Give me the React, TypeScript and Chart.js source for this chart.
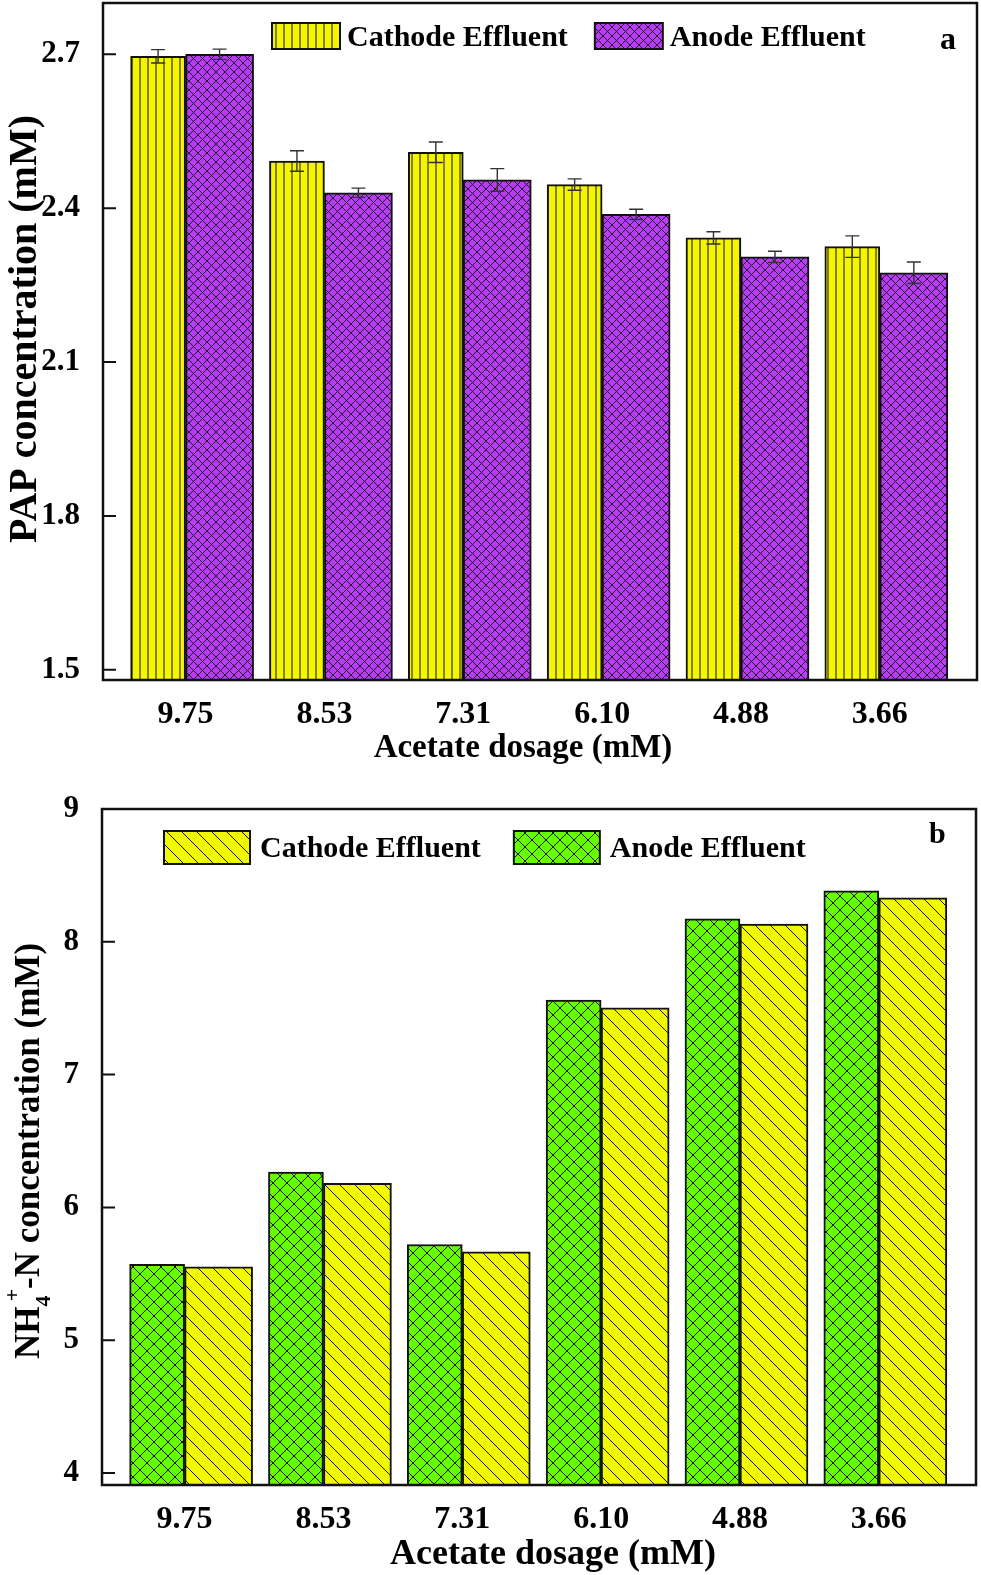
import { useEffect, useRef } from "react";
import { Chart, registerables, type ChartConfiguration, type Plugin } from "chart.js";

Chart.register(...registerables);

const FONT = "'Liberation Serif', 'Times New Roman', serif";

// shared x categories (acetate dosage, mM)
const dosages = ["9.75", "8.53", "7.31", "6.10", "4.88", "3.66"];

// panel a: PAP concentration (mM)
const papCathode = [2.696, 2.492, 2.509, 2.446, 2.342, 2.325];
const papCathodeErr = [0.013, 0.02, 0.02, 0.011, 0.012, 0.021];
const papAnode = [2.7, 2.43, 2.455, 2.388, 2.305, 2.274];
const papAnodeErr = [0.01, 0.009, 0.022, 0.01, 0.011, 0.021];
const papTicks = [1.5, 1.8, 2.1, 2.4, 2.7];

// panel b: NH4+-N concentration (mM)
const nhAnode = [5.571, 6.266, 5.721, 7.561, 8.173, 8.384];
const nhCathode = [5.553, 6.181, 5.666, 7.503, 8.133, 8.331];
const nhTicks = [4, 5, 6, 7, 8, 9];

const points = (values: number[]) => values.map((y, i) => ({ x: i + 1, y }));

function hatch(bg: string, period: number, dirs: string[], lw = 1) {
  const c = document.createElement("canvas");
  c.width = period;
  c.height = period;
  const g = c.getContext("2d")!;
  g.fillStyle = bg;
  g.fillRect(0, 0, period, period);
  g.strokeStyle = "#111";
  g.lineWidth = lw;
  g.beginPath();
  for (const d of dirs) {
    if (d === "|") {
      g.moveTo(period / 2, 0);
      g.lineTo(period / 2, period);
    }
    for (const o of [-period, 0, period]) {
      if (d === "\\") {
        g.moveTo(o, 0);
        g.lineTo(o + period, period);
      }
      if (d === "/") {
        g.moveTo(o, period);
        g.lineTo(o + period, 0);
      }
    }
  }
  g.stroke();
  return g.createPattern(c, "repeat")!;
}

type Part = { text: string; scale?: number; shift?: number; stackOn?: number };

function drawParts(
  ctx: CanvasRenderingContext2D,
  parts: Part[],
  size: number,
  cx: number,
  cy: number,
  angle: number
) {
  const laid: (Part & { fs: number; start: number })[] = [];
  let pos = 0;
  let prevStart = 0;
  for (const p of parts) {
    const fs = size * (p.scale ?? 1);
    ctx.font = `bold ${fs}px ${FONT}`;
    const w = ctx.measureText(p.text).width;
    const start = p.stackOn !== undefined ? prevStart + p.stackOn * size : pos;
    if (p.stackOn === undefined) prevStart = start;
    laid.push({ ...p, fs, start });
    pos = Math.max(pos, start + w);
  }
  ctx.save();
  ctx.translate(cx, cy);
  ctx.rotate(angle);
  ctx.textAlign = "left";
  ctx.textBaseline = "alphabetic";
  for (const l of laid) {
    ctx.font = `bold ${l.fs}px ${FONT}`;
    ctx.fillText(l.text, l.start - pos / 2, size * 0.33 + (l.shift ?? 0) * size);
  }
  ctx.restore();
}

const framePlugin: Plugin = {
  id: "frame",
  afterDatasetsDraw(chart) {
    const { ctx, chartArea: a } = chart;
    const y = chart.scales.y;
    ctx.save();
    ctx.strokeStyle = "#111";
    ctx.lineWidth = 2;
    ctx.beginPath();
    for (const t of y.ticks) {
      const py = y.getPixelForValue(t.value);
      ctx.moveTo(a.left, py);
      ctx.lineTo(a.left + 13, py);
    }
    ctx.stroke();
    ctx.lineWidth = 2.5;
    ctx.strokeRect(a.left, a.top, a.right - a.left, a.bottom - a.top);
    ctx.restore();
  },
};

const errorBarPlugin: Plugin = {
  id: "errorBars",
  afterDatasetsDraw(chart) {
    const { ctx } = chart;
    const y = chart.scales.y;
    ctx.save();
    ctx.strokeStyle = "#333";
    ctx.lineWidth = 1.4;
    chart.data.datasets.forEach((ds: any, di) => {
      if (!ds.errors) return;
      chart.getDatasetMeta(di).data.forEach((bar: any, i) => {
        const v = ds.data[i].y;
        const e = ds.errors[i];
        const top = y.getPixelForValue(v + e);
        const bot = y.getPixelForValue(v - e);
        ctx.beginPath();
        ctx.moveTo(bar.x, top);
        ctx.lineTo(bar.x, bot);
        ctx.moveTo(bar.x - 7, top);
        ctx.lineTo(bar.x + 7, top);
        ctx.moveTo(bar.x - 7, bot);
        ctx.lineTo(bar.x + 7, bot);
        ctx.stroke();
      });
    });
    ctx.restore();
  },
};

const legendPlugin: Plugin = {
  id: "boxLegend",
  afterDraw(chart, _args, opts: any) {
    const { ctx, chartArea: a } = chart;
    ctx.save();
    ctx.font = `bold ${opts.size}px ${FONT}`;
    ctx.textAlign = "left";
    ctx.textBaseline = "alphabetic";
    let x = a.left + opts.left;
    const top = a.top + opts.top;
    for (const di of opts.order) {
      const ds: any = chart.data.datasets[di];
      ctx.fillStyle = ds.backgroundColor;
      ctx.fillRect(x, top, opts.boxW, opts.boxH);
      ctx.lineWidth = 2;
      ctx.strokeStyle = "#111";
      ctx.strokeRect(x, top, opts.boxW, opts.boxH);
      x += opts.boxW + opts.textGap;
      ctx.fillStyle = "#000";
      ctx.fillText(ds.label, x, top + opts.boxH / 2 + opts.size * 0.33);
      x += ctx.measureText(ds.label).width + opts.itemGap;
    }
    ctx.restore();
  },
};

const titlesPlugin: Plugin = {
  id: "axisTitles",
  afterDraw(chart, _args, opts: any) {
    const { ctx } = chart;
    ctx.save();
    ctx.fillStyle = "#000";
    drawParts(ctx, opts.x.parts, opts.x.size, opts.x.cx, opts.x.cy, 0);
    drawParts(ctx, opts.y.parts, opts.y.size, opts.y.cx, opts.y.cy, -Math.PI / 2);
    ctx.font = `bold ${opts.tag.size}px ${FONT}`;
    ctx.textAlign = "left";
    ctx.textBaseline = "alphabetic";
    ctx.fillText(opts.tag.text, opts.tag.x, opts.tag.y);
    ctx.restore();
  },
};

// scales keep their fixed sizes and ask for no extra edge padding
const fixSize = (key: "width" | "height", size: number) => (s: any) => {
  s[key] = size;
  s.paddingTop = 0;
  s.paddingBottom = 0;
  s.paddingLeft = 0;
  s.paddingRight = 0;
};

function baseOptions(yMin: number, yMax: number, yTicks: number[], yDigits: number, leftW: number) {
  return {
    responsive: false,
    animation: false as const,
    devicePixelRatio: 1,
    events: [],
    scales: {
      x: {
        type: "linear" as const,
        min: 0.405,
        max: 6.7,
        offset: false,
        grid: { display: false },
        border: { display: false },
        afterBuildTicks: (s: any) => {
          s.ticks = dosages.map((_, i) => ({ value: i + 1 }));
        },
        afterFit: fixSize("height", 90),
        ticks: {
          callback: (_v: any, i: number) => dosages[i],
          autoSkip: false,
          maxRotation: 0,
          color: "#000",
          padding: 8,
          font: { size: 32, weight: "bold" as const },
        },
      },
      y: {
        min: yMin,
        max: yMax,
        beginAtZero: false,
        grid: { display: false },
        border: { display: false },
        afterBuildTicks: (s: any) => {
          s.ticks = yTicks.map((v) => ({ value: v }));
        },
        afterFit: fixSize("width", leftW),
        ticks: {
          callback: (v: any) => Number(v).toFixed(yDigits),
          color: "#000",
          padding: 15,
          font: { size: 31, weight: "bold" as const },
        },
      },
    },
  };
}

function configA(): ChartConfiguration<"bar"> {
  const yellow = hatch("#F5F500", 8, ["|"]);
  const purple = hatch("#B83CF5", 9, ["/", "\\"], 0.9);
  const base = baseOptions(1.48, 2.8, papTicks, 1, 103);
  return {
    type: "bar",
    data: {
      datasets: [
        {
          label: "Cathode Effluent",
          data: points(papCathode),
          errors: papCathodeErr,
          backgroundColor: yellow,
          borderColor: "#111",
          borderWidth: 2,
          barThickness: 55,
        } as any,
        {
          label: "Anode Effluent",
          data: points(papAnode),
          errors: papAnodeErr,
          backgroundColor: purple,
          borderColor: "#111",
          borderWidth: 2,
          barThickness: 68,
        } as any,
      ],
    },
    options: {
      ...base,
      layout: { padding: { top: 3, right: 4, left: 0, bottom: 0 } },
      plugins: {
        legend: { display: false },
        tooltip: { enabled: false },
        boxLegend: { order: [0, 1], left: 169, top: 20, boxW: 68, boxH: 26, textGap: 7, itemGap: 27, size: 30 },
        axisTitles: {
          x: { parts: [{ text: "Acetate dosage (mM)" }], size: 33, cx: 523, cy: 746 },
          y: { parts: [{ text: "PAP concentration (mM)" }], size: 40, cx: 23, cy: 329 },
          tag: { text: "a", size: 32, x: 940, y: 49 },
        },
      } as any,
    } as any,
    plugins: [errorBarPlugin, framePlugin, legendPlugin, titlesPlugin],
  };
}

function configB(): ChartConfiguration<"bar"> {
  const green = hatch("#66FF00", 14, ["/", "\\"]);
  const yellow = hatch("#F2FA00", 15, ["\\"]);
  const base = baseOptions(3.91, 9, nhTicks, 0, 102);
  return {
    type: "bar",
    data: {
      datasets: [
        {
          label: "Anode Effluent",
          data: points(nhAnode),
          backgroundColor: green,
          borderColor: "#111",
          borderWidth: 2,
          barThickness: 55,
        } as any,
        {
          label: "Cathode Effluent",
          data: points(nhCathode),
          backgroundColor: yellow,
          borderColor: "#111",
          borderWidth: 2,
          barThickness: 68,
        } as any,
      ],
    },
    options: {
      ...base,
      layout: { padding: { top: 39, right: 5, left: 0, bottom: 0 } },
      plugins: {
        legend: { display: false },
        tooltip: { enabled: false },
        boxLegend: { order: [1, 0], left: 62, top: 22, boxW: 86, boxH: 33, textGap: 10, itemGap: 33, size: 30 },
        axisTitles: {
          x: { parts: [{ text: "Acetate dosage (mM)" }], size: 36, cx: 553, cy: 782 },
          y: {
            parts: [
              { text: "NH" },
              { text: "4", scale: 0.62, shift: 0.34 },
              { text: "+", scale: 0.62, shift: -0.57, stackOn: 0.15 },
              { text: "-N concentration (mM)" },
            ],
            size: 35,
            cx: 27,
            cy: 381,
          },
          tag: { text: "b", size: 30, x: 929, y: 73 },
        },
      } as any,
    } as any,
    plugins: [framePlugin, legendPlugin, titlesPlugin],
  };
}

function BarPanel({ build, height }: { build: () => ChartConfiguration<"bar">; height: number }) {
  const canvasRef = useRef<HTMLCanvasElement>(null);

  useEffect(() => {
    const canvas = canvasRef.current;
    if (!canvas) return;
    Chart.defaults.font.family = FONT;
    const chart = new Chart(canvas, build());
    return () => chart.destroy();
  }, [build]);

  return <canvas ref={canvasRef} width={981} height={height} style={{ display: "block" }} />;
}

export default function App() {
  return (
    <div style={{ position: "absolute", left: 0, top: 0, width: 981, height: 1575, background: "#fff" }}>
      <BarPanel build={configA} height={770} />
      <BarPanel build={configB} height={805} />
    </div>
  );
}
